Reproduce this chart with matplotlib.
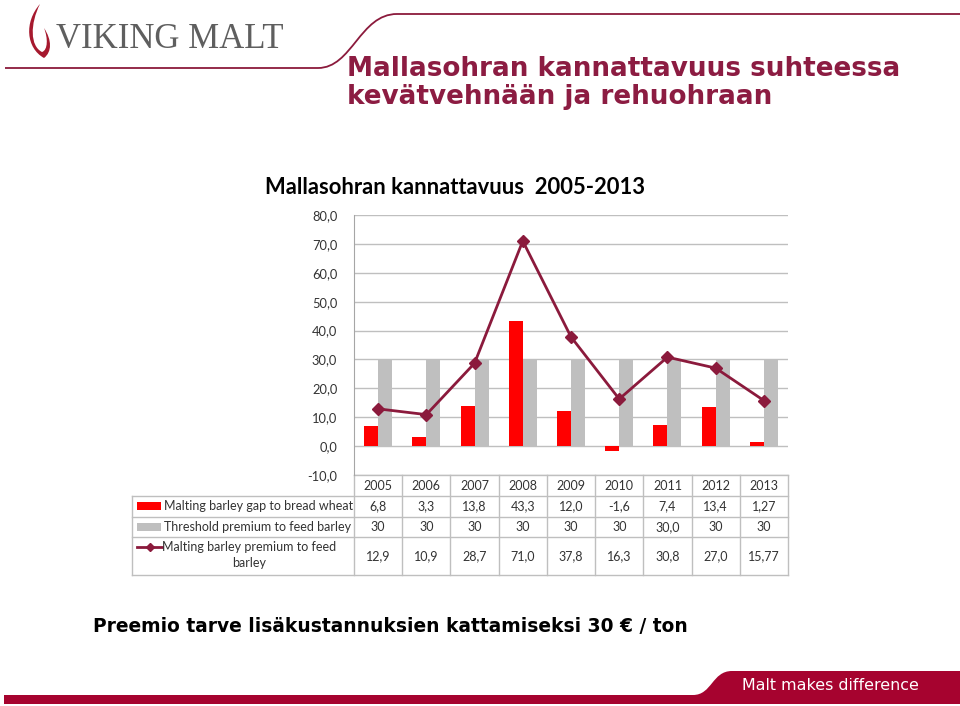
import numpy as np
import matplotlib.pyplot as plt
from matplotlib.path import Path
from matplotlib.patches import PathPatch, Rectangle

# data
years = ['2005', '2006', '2007', '2008', '2009', '2010', '2011', '2012', '2013']
gap = [6.8, 3.3, 13.8, 43.3, 12.0, -1.6, 7.4, 13.4, 1.27]
threshold = [30, 30, 30, 30, 30, 30, 30.0, 30, 30]
premium = [12.9, 10.9, 28.7, 71.0, 37.8, 16.3, 30.8, 27.0, 15.77]

gap_txt = ['6,8', '3,3', '13,8', '43,3', '12,0', '-1,6', '7,4', '13,4', '1,27']
threshold_txt = ['30', '30', '30', '30', '30', '30', '30,0', '30', '30']
premium_txt = ['12,9', '10,9', '28,7', '71,0', '37,8', '16,3', '30,8', '27,0', '15,77']
series_names = ['Malting barley gap to bread wheat',
                'Threshold premium to feed barley',
                'Malting barley premium to feed\nbarley']

RED = '#FF0000'
GREY = '#BFBFBF'
WINE = '#8B1A3C'
BAND = '#A6032F'

W, H = 960, 706
fig = plt.figure(figsize=(9.6, 7.06), dpi=100)

# background layer in pixel coords
bg = fig.add_axes([0, 0, 1, 1])
bg.set_xlim(0, W)
bg.set_ylim(H, 0)
bg.axis('off')

# logo line at top
verts = [(5, 68), (318, 68), (352, 68), (360, 14), (397, 14), (960, 14)]
codes = [Path.MOVETO, Path.LINETO, Path.CURVE4, Path.CURVE4, Path.CURVE4, Path.LINETO]
bg.add_patch(PathPatch(Path(verts, codes), fill=False, ec=WINE, lw=1.3))

# flame
flame = [(40, 4), (24, 22), (26, 48), (44, 58),
         (52, 52), (52, 40), (44, 28),
         (48, 38), (48, 50), (42, 52),
         (30, 46), (30, 24), (40, 4)]
fcodes = [Path.MOVETO, Path.CURVE4, Path.CURVE4, Path.CURVE4,
          Path.CURVE4, Path.CURVE4, Path.CURVE4,
          Path.CURVE4, Path.CURVE4, Path.CURVE4,
          Path.CURVE4, Path.CURVE4, Path.CURVE4]
bg.add_patch(PathPatch(Path(flame, fcodes), fc='#A6192E', ec='none'))
bg.text(56, 40, 'VIKING MALT', family='Liberation Serif', fontsize=25,
        color='#5F5F5F', va='center', ha='left')

# header title
bg.text(347, 83, 'Mallasohran kannattavuus suhteessa\nkevätvehnään ja rehuohraan',
        family='DejaVu Sans', weight='bold', fontsize=18.9, color='#8C1C42',
        ha='left', va='center', linespacing=1.05)

# chart title
bg.text(455, 187, 'Mallasohran kannattavuus  2005-2013', family='Lato',
        weight='bold', fontsize=15.8, color='black', ha='center', va='center')

# bottom text
bg.text(93, 627, 'Preemio tarve lisäkustannuksien kattamiseksi 30 € / ton',
        family='DejaVu Sans', weight='bold', fontsize=13.4, color='black',
        ha='left', va='center')

# footer band
band = [(4, 695), (693, 695), (712, 695), (712, 671), (732, 671), (960, 671),
        (960, 704), (4, 704), (4, 695)]
bcodes = [Path.MOVETO, Path.LINETO, Path.CURVE4, Path.CURVE4, Path.CURVE4,
          Path.LINETO, Path.LINETO, Path.LINETO, Path.CLOSEPOLY]
bg.add_patch(PathPatch(Path(band, bcodes), fc=BAND, ec='none'))
bg.text(830, 686, 'Malt makes difference', family='DejaVu Sans', fontsize=11.4,
        color='white', ha='center', va='center')

# main chart axes
x0, x1, ytop, ybot = 354, 788, 215, 475
ax = fig.add_axes([x0 / W, 1 - ybot / H, (x1 - x0) / W, (ybot - ytop) / H])
ax.patch.set_alpha(0)
x = np.arange(len(years))
w = 0.29
ax.bar(x - w / 2, gap, w, color=RED, zorder=2)
ax.bar(x + w / 2, threshold, w, color=GREY, zorder=2)
ax.plot(x, premium, color=WINE, lw=2, marker='D', ms=6.5, zorder=3)
ax.set_xlim(-0.5, len(years) - 0.5)
ax.set_ylim(-10, 80)
ax.set_yticks(np.arange(-10, 81, 10))
ax.set_yticklabels([f'{v:.1f}'.replace('.', ',') for v in np.arange(-10, 81, 10)],
                   family='Lato', fontsize=9.3, color='#333333')
ax.tick_params(axis='y', length=0, pad=12)
ax.set_xticks([])
ax.grid(axis='y', color=GREY, lw=1, zorder=0)
for s in ['top', 'right', 'bottom']:
    ax.spines[s].set_visible(False)
ax.spines['left'].set_color('#A6A6A6')

# data table under the chart
colw = (x1 - x0) / len(years)
rows = [475, 496, 517, 537, 575]
lc = '#BFBFBF'
bg.plot([x0, x1], [rows[0], rows[0]], color=lc, lw=1)
for r in rows[1:]:
    bg.plot([132, x1], [r, r], color=lc, lw=1)
for i in range(len(years) + 1):
    xx = x0 + i * colw
    bg.plot([xx, xx], [rows[0], rows[-1]], color=lc, lw=1)
bg.plot([132, 132], [rows[1], rows[-1]], color=lc, lw=1)

tfont = dict(family='Lato', fontsize=9, color='#333333', ha='center', va='center')
for i, yr in enumerate(years):
    cx = x0 + (i + 0.5) * colw
    bg.text(cx, (rows[0] + rows[1]) / 2, yr, **tfont)
    bg.text(cx, (rows[1] + rows[2]) / 2, gap_txt[i], **tfont)
    bg.text(cx, (rows[2] + rows[3]) / 2, threshold_txt[i], **tfont)
    bg.text(cx, (rows[3] + rows[4]) / 2, premium_txt[i], **tfont)

# legend keys in the table
bg.add_patch(Rectangle((137, 502), 24, 8, fc=RED, ec='none'))
bg.add_patch(Rectangle((137, 523), 24, 8, fc=GREY, ec='none'))
bg.plot([137, 162], [547, 547], color=WINE, lw=2)
bg.plot([149.5], [547], marker='D', ms=4.5, color=WINE)
bg.text(164, 506, series_names[0], family='Lato', fontsize=9, color='#333333',
        ha='left', va='center')
bg.text(164, 527, series_names[1], family='Lato', fontsize=9, color='#333333',
        ha='left', va='center')
bg.text(249, 555, series_names[2], family='Lato', fontsize=9, color='#333333',
        ha='center', va='center', linespacing=1.4)

fig.savefig('out.png', dpi=100)
